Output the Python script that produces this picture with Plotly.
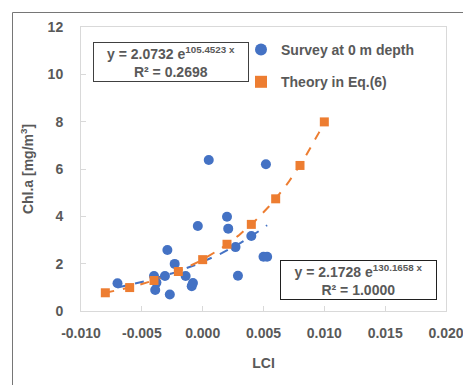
import numpy as np
import plotly.graph_objects as go

# Survey at 0 m depth
survey_x = [-0.0070, -0.0040, -0.0038, -0.0039, -0.0031, -0.0029, -0.0027, -0.0023,
            -0.0014, -0.0009, -0.0008, -0.0004, 0.0005, 0.0020, 0.0021, 0.0027,
            0.0029, 0.0040, 0.0050, 0.0053, 0.0052]
survey_y = [1.17, 1.48, 1.20, 0.89, 1.48, 2.58, 0.70, 1.99,
            1.48, 1.05, 1.18, 3.59, 6.38, 3.98, 3.48, 2.70,
            1.49, 3.17, 2.29, 2.29, 6.20]

# Theory in Eq.(6)
theory_x = [-0.008, -0.006, -0.004, -0.002, 0.000, 0.002, 0.004, 0.006, 0.008, 0.010]
theory_y = [0.77, 0.99, 1.29, 1.67, 2.17, 2.82, 3.66, 4.74, 6.15, 7.99]

# Exponential trendline coefficients shown in the chart
survey_fit = (2.0732, 105.4523)
theory_fit = (2.1728, 130.1658)

x_ticks = [-0.010, -0.005, 0.000, 0.005, 0.010, 0.015, 0.020]
y_ticks = [0, 2, 4, 6, 8, 10, 12]

BLUE = "#4472C4"
ORANGE = "#ED7D31"
GRAY = "#595959"
FONT = "Liberation Sans, Arial, sans-serif"

fig = go.Figure()

sx = np.linspace(min(survey_x), max(survey_x), 80)
fig.add_trace(go.Scatter(x=sx, y=survey_fit[0] * np.exp(survey_fit[1] * sx), mode="lines",
                         line=dict(color=BLUE, width=2, dash="dash"), showlegend=False,
                         hoverinfo="skip"))
tx = np.linspace(min(theory_x), max(theory_x), 80)
fig.add_trace(go.Scatter(x=tx, y=theory_fit[0] * np.exp(theory_fit[1] * tx), mode="lines",
                         line=dict(color=ORANGE, width=2, dash="dash"), showlegend=False,
                         hoverinfo="skip"))

fig.add_trace(go.Scatter(x=survey_x, y=survey_y, mode="markers", name="Survey at 0 m depth",
                         legendgroup="a",
                         marker=dict(color=BLUE, size=10, symbol="circle")))
fig.add_trace(go.Scatter(x=theory_x, y=theory_y, mode="markers", name="Theory in Eq.(6)",
                         legendgroup="b",
                         marker=dict(color=ORANGE, size=9, symbol="square")))

axis_common = dict(showline=True, linecolor="#D9D9D9", linewidth=1, mirror=True,
                   showgrid=False, zeroline=False, ticks="inside", ticklen=5,
                   tickcolor="#D9D9D9", ticklabeloverflow="allow", automargin=False,
                   tickfont=dict(family=FONT, size=14, color=GRAY, weight="bold"))

fig.update_xaxes(range=[-0.010, 0.020], tickvals=x_ticks,
                 ticktext=[f"{v:.3f}" for v in x_ticks], ticklabelstandoff=9,
                 title=dict(text="<b>LCI</b>", font=dict(family=FONT, size=14, color=GRAY),
                            standoff=18),
                 **axis_common)
fig.update_yaxes(range=[0, 12], tickvals=y_ticks, ticklabelstandoff=14,
                 title=dict(text="<b>Chl.a [mg/m<sup>3</sup>]</b>",
                            font=dict(family=FONT, size=14, color=GRAY), standoff=10),
                 **axis_common)

W, H = 463, 385
L, R, T, B = 81, 446, 27, 311
pw, ph = R - L, B - T


def px(xp):
    return (xp - L) / pw


def py(yp):
    return (B - yp) / ph


fig.add_annotation(xref="paper", yref="paper", x=px(171), y=py(62),
                   xanchor="center", yanchor="middle",
                   text="<b>y = 2.0732 e<sup>105.4523 x</sup><br>R² = 0.2698</b>",
                   showarrow=False, font=dict(family=FONT, size=14, color=GRAY),
                   bordercolor="#404040", borderwidth=1, bgcolor="white",
                   width=152, height=36, borderpad=1, align="center")
fig.add_annotation(xref="paper", yref="paper", x=px(358.5), y=py(279.5),
                   xanchor="center", yanchor="middle",
                   text="<b>y = 2.1728 e<sup>130.1658 x</sup><br>R² = 1.0000</b>",
                   showarrow=False, font=dict(family=FONT, size=14, color=GRAY),
                   bordercolor="#202020", borderwidth=1, bgcolor="white",
                   width=153, height=36, borderpad=1, align="center")

# outer chart border (top and left edges visible)
fig.add_shape(type="line", xref="paper", yref="paper", x0=px(12.5), x1=px(470),
              y0=py(12.5), y1=py(12.5), line=dict(color="#767676", width=1))
fig.add_shape(type="line", xref="paper", yref="paper", x0=px(12.5), x1=px(12.5),
              y0=py(12.5), y1=py(400), line=dict(color="#767676", width=1))

fig.update_layout(
    width=W, height=H,
    margin=dict(l=L, r=W - R, t=T, b=H - B, autoexpand=False),
    plot_bgcolor="white", paper_bgcolor="white",
    font=dict(family=FONT, color=GRAY),
    legend=dict(x=px(241), y=py(34), xanchor="left", yanchor="top",
                font=dict(family=FONT, size=14, color=GRAY, weight="bold"),
                bgcolor="rgba(0,0,0,0)", traceorder="grouped", tracegroupgap=11,
                itemsizing="constant"),
    showlegend=True,
)

fig.write_html("out.html")
